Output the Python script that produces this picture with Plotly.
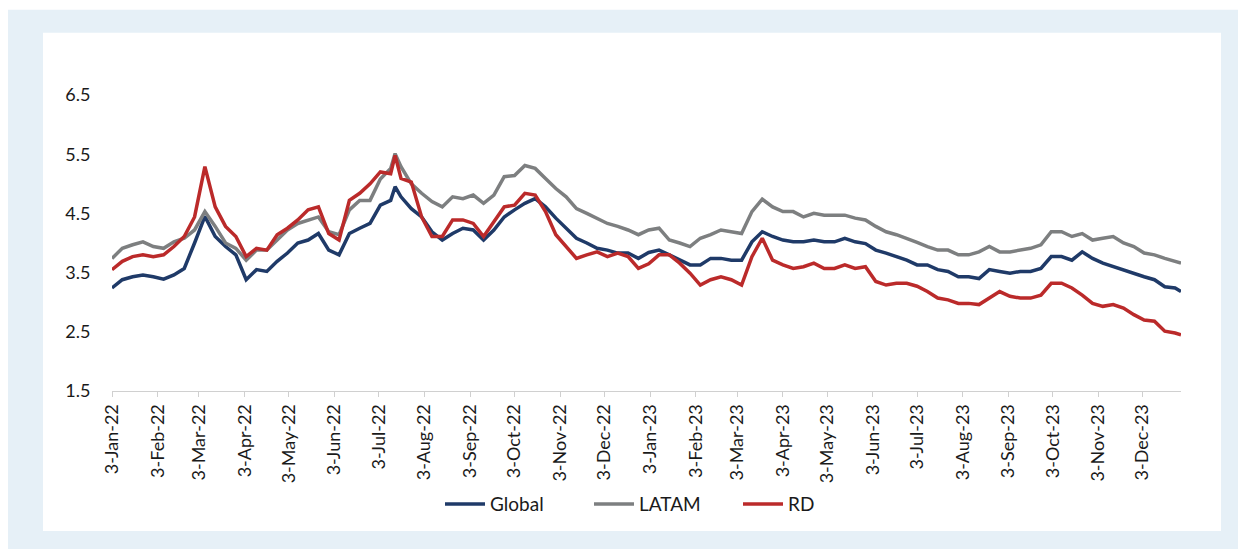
import pandas as pd
import plotly.graph_objects as go

# Weekly readings (Mondays from 3-Jan-22) plus last day 29-Dec-23
start_date = "2022-01-03"
n_weeks = 104
last_date = "2023-12-29"

global_vals = [
    3.24, 3.38, 3.43, 3.46, 3.43, 3.39, 3.46, 3.57, 4.00, 4.45,
    4.11, 3.94, 3.80, 3.38, 3.55, 3.52, 3.69, 3.83, 4.00, 4.05,
    4.16, 3.88, 3.80, 4.16, 4.25, 4.33, 4.64, 4.72, 4.78, 4.58,
    4.44, 4.19, 4.05, 4.16, 4.25, 4.22, 4.05, 4.22, 4.44, 4.56,
    4.67, 4.75, 4.61, 4.42, 4.25, 4.08, 4.00, 3.91, 3.88, 3.83,
    3.83, 3.74, 3.84, 3.88, 3.80, 3.71, 3.63, 3.63, 3.74, 3.74,
    3.71, 3.71, 4.02, 4.19, 4.11, 4.05, 4.02, 4.02, 4.05, 4.02,
    4.02, 4.08, 4.02, 3.99, 3.88, 3.83, 3.77, 3.71, 3.63, 3.63,
    3.55, 3.52, 3.43, 3.43, 3.40, 3.55, 3.52, 3.49, 3.52, 3.52,
    3.57, 3.77, 3.77, 3.71, 3.85, 3.74, 3.66, 3.60, 3.55, 3.49,
    3.43, 3.38, 3.26, 3.24, 3.18,
]
latam_vals = [
    3.74, 3.91, 3.97, 4.02, 3.94, 3.91, 4.02, 4.08, 4.22, 4.53,
    4.28, 4.00, 3.91, 3.71, 3.88, 3.88, 4.05, 4.22, 4.33, 4.39,
    4.44, 4.19, 4.14, 4.56, 4.72, 4.72, 5.08, 5.26, 5.29, 5.00,
    4.84, 4.70, 4.61, 4.78, 4.75, 4.81, 4.67, 4.81, 5.12, 5.14,
    5.31, 5.26, 5.09, 4.92, 4.78, 4.58, 4.50, 4.42, 4.33, 4.28,
    4.22, 4.14, 4.22, 4.25, 4.05, 4.00, 3.94, 4.08, 4.14, 4.22,
    4.19, 4.16, 4.53, 4.74, 4.61, 4.53, 4.53, 4.44, 4.50, 4.47,
    4.47, 4.47, 4.42, 4.39, 4.28, 4.19, 4.14, 4.08, 4.01, 3.94,
    3.88, 3.88, 3.80, 3.80, 3.85, 3.94, 3.85, 3.85, 3.88, 3.91,
    3.97, 4.19, 4.19, 4.11, 4.16, 4.05, 4.08, 4.11, 4.00, 3.94,
    3.83, 3.80, 3.74, 3.69, 3.66,
]
rd_vals = [
    3.55, 3.69, 3.77, 3.80, 3.77, 3.80, 3.94, 4.11, 4.44, 5.29,
    4.61, 4.28, 4.11, 3.77, 3.91, 3.88, 4.14, 4.25, 4.39, 4.56,
    4.61, 4.16, 4.05, 4.72, 4.84, 5.00, 5.20, 5.17, 5.09, 5.03,
    4.44, 4.11, 4.11, 4.39, 4.39, 4.33, 4.11, 4.36, 4.61, 4.64,
    4.84, 4.81, 4.53, 4.14, 3.94, 3.74, 3.80, 3.85, 3.77, 3.83,
    3.77, 3.57, 3.65, 3.80, 3.80, 3.66, 3.49, 3.29, 3.38, 3.43,
    3.38, 3.29, 3.77, 4.08, 3.71, 3.63, 3.57, 3.60, 3.66, 3.57,
    3.57, 3.63, 3.57, 3.60, 3.35, 3.29, 3.32, 3.32, 3.27, 3.18,
    3.07, 3.04, 2.98, 2.98, 2.96, 3.07, 3.18, 3.10, 3.07, 3.07,
    3.12, 3.32, 3.32, 3.24, 3.12, 2.98, 2.93, 2.96, 2.90, 2.79,
    2.70, 2.68, 2.51, 2.48, 2.45,
]

# Extra readings at the July 2022 peak
peak_dates = ["2022-07-14"]
peak_global = [4.95]
peak_latam = [5.51]
peak_rd = [5.48]

tick_dates = pd.date_range("2022-01-01", "2023-12-01", freq="MS") + pd.Timedelta(days=2)
tick_labels = [d.strftime("%-d-%b-%y") for d in tick_dates]

dates = list(pd.date_range(start_date, periods=n_weeks, freq="7D")) + [pd.Timestamp(last_date)]
df = pd.DataFrame({"date": dates, "Global": global_vals, "LATAM": latam_vals, "RD": rd_vals})
df_peak = pd.DataFrame({"date": pd.to_datetime(peak_dates), "Global": peak_global,
                        "LATAM": peak_latam, "RD": peak_rd})
df = pd.concat([df, df_peak]).sort_values("date").reset_index(drop=True)

colors = {"Global": "#1f3a68", "LATAM": "#7d7f80", "RD": "#bb2a2a"}

fig = go.Figure()
for name in ["Global", "LATAM", "RD"]:
    fig.add_trace(go.Scatter(x=df["date"], y=df[name], mode="lines", name=name,
                             line=dict(color=colors[name], width=3.5)))

W, H = 1238, 550
L, R, T, B = 112, 57, 94.5, 158.5
pw, ph = W - L - R, H - T - B

def px(x):
    return (x - L) / pw

def py(y):
    return (H - B - y) / ph

fig.update_layout(
    width=W, height=H,
    margin=dict(l=L, r=R, t=T, b=B, pad=0),
    paper_bgcolor="white",
    plot_bgcolor="rgba(0,0,0,0)",
    font=dict(family="Lato", size=18, color="#1a1a1a"),
    showlegend=True,
    legend=dict(orientation="h", x=px(440), xanchor="left", y=py(505), yanchor="middle",
                font=dict(size=19, color="#1a1a1a"), bgcolor="rgba(0,0,0,0)",
                itemwidth=40, tracegroupgap=0, entrywidth=94, entrywidthmode="pixels"),
    shapes=[
        dict(type="rect", xref="paper", yref="paper", x0=px(8), x1=px(1238), y0=py(550), y1=py(9),
             fillcolor="#e6f0f7", line=dict(width=0), layer="below"),
        dict(type="rect", xref="paper", yref="paper", x0=px(43), x1=px(1221), y0=py(532), y1=py(32),
             fillcolor="white", line=dict(width=0), layer="below"),
    ],
)
fig.update_xaxes(type="date", range=["2022-01-03", last_date], showgrid=False,
                 tickvals=tick_dates, ticktext=tick_labels, tickangle=-90,
                 ticks="outside", ticklen=5, tickcolor="#d0d0d0",
                 showline=True, linecolor="#d0d0d0", linewidth=1,
                 tickfont=dict(size=18), zeroline=False)
fig.update_yaxes(range=[1.5, 6.5], tickvals=[1.5, 2.5, 3.5, 4.5, 5.5, 6.5],
                 ticktext=["1.5", "2.5", "3.5", "4.5", "5.5", "6.5"],
                 showgrid=False, zeroline=False, showline=False,
                 ticks="outside", ticklen=17, tickcolor="rgba(0,0,0,0)",
                 tickfont=dict(size=18))

fig.write_html("out.html")
